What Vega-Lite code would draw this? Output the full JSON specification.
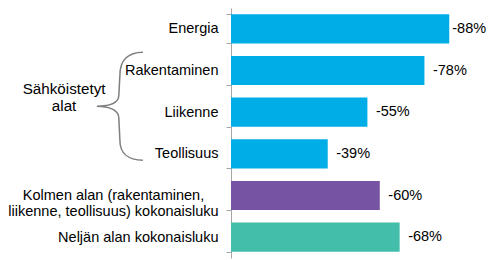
{
  "$schema": "https://vega.github.io/schema/vega-lite/v6.json",
  "width": 248,
  "height": 250,
  "autosize": {"type": "none"},
  "padding": {"left": 231, "top": 8, "right": 11, "bottom": 2},
  "background": "white",
  "config": {
    "view": {"stroke": null},
    "font": "Liberation Sans",
    "text": {"font": "Liberation Sans", "color": "#000000"}
  },
  "data": {
    "values": [
      {"category": "Energia", "value": -0.88, "label": "-88%"},
      {"category": "Rakentaminen", "value": -0.78, "label": "-78%"},
      {"category": "Liikenne", "value": -0.55, "label": "-55%"},
      {"category": "Teollisuus", "value": -0.39, "label": "-39%"},
      {"category": "Kolmen alan (rakentaminen, liikenne, teollisuus) kokonaisluku", "value": -0.60, "label": "-60%"},
      {"category": "Neljän alan kokonaisluku", "value": -0.68, "label": "-68%"}
    ]
  },
  "layer": [
    {
      "mark": {"type": "bar"},
      "encoding": {
        "y": {
          "field": "category",
          "type": "nominal",
          "sort": null,
          "scale": {
            "domain": ["Energia", "Rakentaminen", "Liikenne", "Teollisuus", "Kolmen alan (rakentaminen, liikenne, teollisuus) kokonaisluku", "Neljän alan kokonaisluku"],
            "paddingInner": 0.3,
            "paddingOuter": 0.15
          },
          "axis": {
            "title": null,
            "orient": "left",
            "labelFont": "Liberation Sans",
            "labelFontSize": 14.5,
            "labelColor": "#000000",
            "labelLimit": 0,
            "labelLineHeight": 15.5,
            "domainColor": "#A6A6A6",
            "tickColor": "#A6A6A6",
            "tickSize": 5,
            "tickBand": "extent",
            "grid": false,
            "labelExpr": "datum.value == 'Kolmen alan (rakentaminen, liikenne, teollisuus) kokonaisluku' ? ['Kolmen alan (rakentaminen,', 'liikenne, teollisuus) kokonaisluku'] : datum.label",
            "labelAlign": {"condition": {"test": "datum.value == 'Kolmen alan (rakentaminen, liikenne, teollisuus) kokonaisluku'", "value": "center"}, "value": "right"},
            "labelPadding": {"condition": {"test": "datum.value == 'Kolmen alan (rakentaminen, liikenne, teollisuus) kokonaisluku'", "value": 113}, "value": 8}
          }
        },
        "x": {
          "field": "value",
          "type": "quantitative",
          "stack": null,
          "scale": {"domain": [0, -1], "nice": false, "zero": false},
          "axis": null
        },
        "color": {
          "field": "category",
          "type": "nominal",
          "scale": {
            "domain": ["Energia", "Rakentaminen", "Liikenne", "Teollisuus", "Kolmen alan (rakentaminen, liikenne, teollisuus) kokonaisluku", "Neljän alan kokonaisluku"],
            "range": ["#00ADE6", "#00ADE6", "#00ADE6", "#00ADE6", "#7654A3", "#42BEAB"]
          },
          "legend": null
        }
      }
    },
    {
      "transform": [{"filter": "datum.category != 'Energia'"}],
      "mark": {"type": "text", "align": "left", "baseline": "middle", "dx": 8.5, "fontSize": 14.5, "font": "Liberation Sans", "color": "#000000"},
      "encoding": {
        "y": {"field": "category", "type": "nominal", "sort": null},
        "x": {"field": "value", "type": "quantitative", "scale": {"domain": [0, -1], "nice": false, "zero": false}},
        "text": {"field": "label"}
      }
    },
    {
      "transform": [{"filter": "datum.category == 'Energia'"}],
      "mark": {"type": "text", "align": "left", "baseline": "middle", "dx": 3, "fontSize": 14.5, "font": "Liberation Sans", "color": "#000000"},
      "encoding": {
        "y": {"field": "category", "type": "nominal", "sort": null},
        "x": {"field": "value", "type": "quantitative", "scale": {"domain": [0, -1], "nice": false, "zero": false}},
        "text": {"field": "label"}
      }
    },
    {
      "data": {"values": [{"note": "Sähköistetyt alat"}]},
      "mark": {"type": "text", "align": "center", "baseline": "middle", "fontSize": 15.2, "lineHeight": 17, "dy": -23.5, "font": "Liberation Sans", "color": "#000000", "text": ["Sähköistetyt", "alat"]},
      "encoding": {
        "y": {"datum": "Liikenne", "type": "nominal"},
        "x": {"datum": 0.673, "type": "quantitative", "scale": {"domain": [0, -1], "nice": false, "zero": false}}
      }
    },
    {
      "data": {"values": [{"note": "brace"}]},
      "mark": {
        "type": "point",
        "shape": "M0.426,-1 C0.15,-1 0,-0.85 0,-0.574 L-0.02,-0.2 C-0.02,-0.05 -0.2,0 -0.426,0 C-0.2,0 -0.02,0.07 -0.02,0.22 L0,0.63 C0,0.87 0.15,1 0.426,1",
        "size": 11664,
        "filled": false,
        "stroke": "#7F7F7F",
        "strokeWidth": 1.5,
        "opacity": 1,
        "yOffset": -6
      },
      "encoding": {
        "y": {"datum": "Liikenne", "type": "nominal"},
        "x": {"datum": 0.448, "type": "quantitative", "scale": {"domain": [0, -1], "nice": false, "zero": false}}
      }
    }
  ]
}
